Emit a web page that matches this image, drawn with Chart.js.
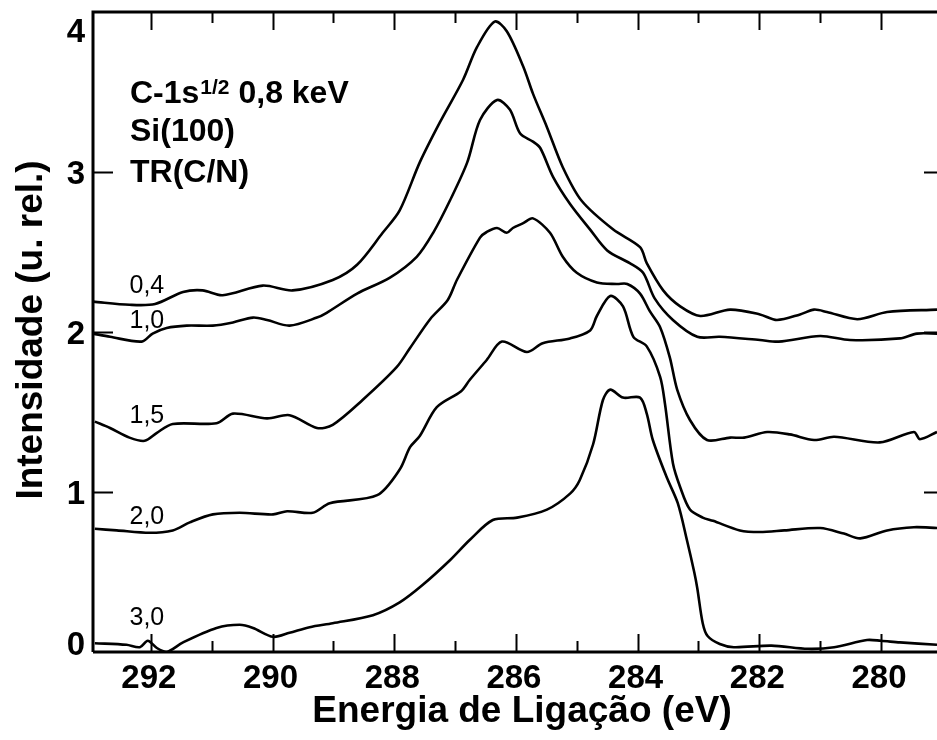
<!DOCTYPE html>
<html>
<head>
<meta charset="utf-8">
<title>C-1s Si(100) TR(C/N)</title>
<script src="https://cdn.jsdelivr.net/npm/chart.js@4.4.1/dist/chart.umd.min.js"></script>
<style>
  html, body { margin: 0; padding: 0; background: #fff; }
  #wrap { width: 937px; height: 740px; }
</style>
</head>
<body>
<div id="wrap"><canvas id="xps" width="937" height="740"></canvas></div>
<script>
// curve names (TR value)
const curveNames = ["0,4", "1,0", "1,5", "2,0", "3,0"];

// energia de ligação (eV) / intensidade (u. rel.) for each curve
const e04 = [292.95, 292.35, 291.93, 291.47, 291.15, 290.82, 290.16, 289.67, 289.01, 288.61, 288.19, 287.91, 287.58, 287.25, 286.87, 286.64, 286.35, 286.15, 285.88, 285.72, 285.49, 285.23, 284.92, 284.40, 283.96, 283.85, 283.58, 283.30, 282.97, 282.48, 281.99, 281.71, 281.33, 281.10, 280.89, 280.39, 279.90, 279.08];
const i04 = [2.19, 2.17, 2.175, 2.25, 2.26, 2.23, 2.29, 2.26, 2.325, 2.42, 2.62, 2.76, 3.06, 3.31, 3.575, 3.78, 3.94, 3.88, 3.66, 3.49, 3.28, 3.03, 2.82, 2.64, 2.53, 2.43, 2.26, 2.16, 2.10, 2.14, 2.11, 2.075, 2.11, 2.14, 2.125, 2.08, 2.125, 2.14];

const e10 = [292.95, 292.67, 292.15, 291.97, 291.74, 291.41, 290.98, 290.65, 290.32, 290.09, 289.72, 289.27, 289.11, 288.61, 288.07, 287.63, 287.36, 287.08, 286.80, 286.59, 286.31, 286.10, 285.93, 285.72, 285.60, 285.39, 285.11, 284.78, 284.50, 284.13, 283.91, 283.72, 283.42, 283.02, 282.65, 281.99, 281.68, 281.00, 280.51, 279.69, 279.41, 279.08];
const i10 = [1.99, 1.97, 1.94, 1.99, 2.025, 2.04, 2.04, 2.06, 2.09, 2.075, 2.04, 2.09, 2.12, 2.24, 2.34, 2.47, 2.62, 2.825, 3.06, 3.325, 3.45, 3.39, 3.24, 3.19, 3.15, 2.97, 2.80, 2.64, 2.51, 2.43, 2.37, 2.21, 2.075, 1.97, 1.97, 1.95, 1.94, 1.975, 1.95, 1.96, 1.99, 1.99];

const e15 = [292.92, 292.67, 292.35, 292.10, 291.90, 291.64, 290.92, 290.65, 290.09, 289.72, 289.27, 289.01, 288.52, 287.96, 287.74, 287.41, 287.12, 286.97, 286.59, 286.48, 286.31, 286.15, 286.05, 285.88, 285.72, 285.44, 285.23, 285.00, 284.67, 284.34, 284.17, 283.96, 283.80, 283.63, 283.47, 283.35, 283.14, 282.86, 282.48, 282.25, 281.87, 281.50, 281.10, 280.77, 280.02, 279.46, 279.36, 279.08];
const i15 = [1.44, 1.40, 1.34, 1.32, 1.37, 1.425, 1.43, 1.49, 1.46, 1.48, 1.40, 1.42, 1.575, 1.78, 1.90, 2.08, 2.20, 2.325, 2.59, 2.625, 2.65, 2.62, 2.65, 2.68, 2.71, 2.62, 2.47, 2.37, 2.31, 2.30, 2.30, 2.24, 2.13, 2.03, 1.84, 1.64, 1.45, 1.325, 1.34, 1.34, 1.375, 1.36, 1.325, 1.345, 1.31, 1.375, 1.33, 1.375];

const e20 = [292.92, 292.56, 292.02, 291.64, 291.36, 290.98, 290.54, 289.99, 289.76, 289.34, 289.06, 288.28, 287.91, 287.74, 287.58, 287.30, 286.90, 286.76, 286.48, 286.23, 285.82, 285.56, 285.11, 284.78, 284.67, 284.45, 284.24, 284.07, 283.85, 283.63, 283.55, 283.42, 283.30, 283.14, 282.93, 282.76, 282.32, 281.99, 281.59, 281.00, 280.61, 280.34, 279.90, 279.46, 279.08];
const i20 = [0.77, 0.76, 0.745, 0.76, 0.81, 0.86, 0.87, 0.86, 0.88, 0.87, 0.93, 0.98, 1.14, 1.28, 1.35, 1.53, 1.63, 1.70, 1.825, 1.94, 1.875, 1.93, 1.96, 2.01, 2.10, 2.225, 2.16, 1.97, 1.91, 1.72, 1.55, 1.18, 1.03, 0.89, 0.84, 0.82, 0.76, 0.75, 0.76, 0.775, 0.74, 0.71, 0.76, 0.78, 0.775];

const e30 = [292.92, 292.40, 292.18, 292.05, 291.90, 291.74, 291.47, 290.92, 290.54, 290.32, 289.99, 289.72, 289.39, 289.01, 288.35, 287.91, 287.53, 287.08, 286.76, 286.38, 285.98, 285.49, 285.11, 284.95, 284.73, 284.57, 284.45, 284.24, 283.96, 283.85, 283.75, 283.52, 283.34, 283.19, 283.07, 283.02, 282.93, 282.85, 282.65, 282.42, 281.80, 281.20, 280.77, 280.23, 280.00, 279.69, 279.08];
const i30 = [0.055, 0.045, 0.03, 0.07, 0.025, 0.0, 0.06, 0.15, 0.17, 0.15, 0.095, 0.12, 0.155, 0.18, 0.23, 0.31, 0.42, 0.575, 0.70, 0.825, 0.84, 0.89, 0.99, 1.075, 1.30, 1.575, 1.64, 1.59, 1.59, 1.49, 1.325, 1.09, 0.93, 0.70, 0.50, 0.40, 0.18, 0.10, 0.05, 0.03, 0.04, 0.02, 0.03, 0.075, 0.07, 0.06, 0.045];

// axis ticks
const xTicks = [292, 290, 288, 286, 284, 282, 280];
const xMinorTicks = [291, 289, 287, 285, 283, 281];
const yTicks = [0, 1, 2, 3, 4];

const energies = [e04, e10, e15, e20, e30];
const intensities = [i04, i10, i15, i20, i30];

const FONT = '"Liberation Sans", Arial, Helvetica, sans-serif';

// frame, inward ticks and all the texts
const framePlugin = {
  id: "frame",
  afterDatasetsDraw(chart, args, opts) {
    const { ctx, chartArea: a } = chart;
    const x = chart.scales.x;
    const y = chart.scales.y;
    ctx.save();
    ctx.strokeStyle = "#000";
    ctx.fillStyle = "#000";

    ctx.lineWidth = 3;
    ctx.beginPath();
    ctx.moveTo(a.left, a.bottom);
    ctx.lineTo(a.left, a.top);
    ctx.lineTo(a.right, a.top);
    ctx.moveTo(a.left, a.bottom);
    ctx.lineTo(a.right, a.bottom);
    ctx.stroke();

    ctx.lineWidth = 2;
    ctx.beginPath();
    xTicks.concat(xMinorTicks).forEach((v) => {
      const px = Math.round(x.getPixelForValue(v)) + 0.5;
      const len = xTicks.includes(v) ? 18 : 11;
      ctx.moveTo(px, a.top);
      ctx.lineTo(px, a.top + len);
      ctx.moveTo(px, a.bottom);
      ctx.lineTo(px, a.bottom - len);
    });
    yTicks.forEach((v) => {
      if (v <= y.min || v >= y.max) return;
      const py = Math.round(y.getPixelForValue(v)) + 0.5;
      ctx.moveTo(a.left, py);
      ctx.lineTo(a.left + 20, py);
      ctx.moveTo(a.right - 13, py);
      ctx.lineTo(a.right, py);
    });
    ctx.stroke();

    // tick labels
    ctx.font = "bold 33px " + FONT;
    ctx.textAlign = "center";
    ctx.textBaseline = "alphabetic";
    xTicks.forEach((v) => {
      ctx.fillText(String(v), x.getPixelForValue(v) - 2, a.bottom + 36);
    });
    ctx.textAlign = "right";
    yTicks.forEach((v) => {
      let c = y.getPixelForValue(v);
      c = Math.min(Math.max(c, a.top + 18), a.bottom - 9);
      ctx.fillText(String(v), a.left - 8, c + 12);
    });

    // axis titles
    ctx.font = "bold 37px " + FONT;
    ctx.textAlign = "center";
    ctx.fillText("Energia de Ligação (eV)", (a.left + a.right) / 2 + 7, 722);
    ctx.save();
    ctx.translate(42, (a.top + a.bottom) / 2 - 2);
    ctx.rotate(-Math.PI / 2);
    ctx.fillText("Intensidade (u. rel.)", 0, 0);
    ctx.restore();

    // legend-like annotation
    ctx.textAlign = "left";
    const tx = 130;
    ctx.font = "bold 32px " + FONT;
    ctx.fillText("C-1s", tx, 103);
    let w = ctx.measureText("C-1s").width;
    ctx.font = "bold 21px " + FONT;
    ctx.fillText("1/2", tx + w + 1, 94);
    w += ctx.measureText("1/2").width + 1;
    ctx.font = "bold 32px " + FONT;
    ctx.fillText(" 0,8 keV", tx + w, 103);
    ctx.fillText("Si(100)", tx, 141);
    ctx.fillText("TR(C/N)", tx, 182);

    // curve labels
    ctx.font = "25px " + FONT;
    curveNames.forEach((name, i) => {
      ctx.fillText(name, x.getPixelForValue(opts.labelEnergy), y.getPixelForValue(opts.labelLevels[i]));
    });
    ctx.restore();
  },
};

const ctx = document.getElementById("xps").getContext("2d");

new Chart(ctx, {
  type: "line",
  data: {
    datasets: curveNames.map((name, k) => ({
      label: name,
      data: energies[k].map((e, i) => ({ x: e, y: intensities[k][i] })),
      borderColor: "#000",
      borderWidth: 2.6,
      pointRadius: 0,
      tension: 0.3,
      fill: false,
    })),
  },
  options: {
    responsive: false,
    animation: false,
    devicePixelRatio: 1,
    layout: { padding: { top: 12, right: 0, bottom: 0, left: 0 } },
    plugins: {
      legend: { display: false },
      tooltip: { enabled: false },
      frame: {
        labelEnergy: 292.35,
        labelLevels: [2.244, 2.025, 1.431, 0.8, 0.169],
      },
    },
    scales: {
      x: {
        type: "linear",
        reverse: true,
        min: 279.08,
        max: 292.95,
        grid: { display: false },
        border: { display: false },
        ticks: { display: false },
        afterFit(s) { s.height = 88; },
      },
      y: {
        type: "linear",
        min: 0,
        max: 4,
        grid: { display: false },
        border: { display: false },
        ticks: { display: false },
        afterFit(s) { s.width = 93; },
      },
    },
  },
  plugins: [framePlugin],
});
</script>
</body>
</html>
